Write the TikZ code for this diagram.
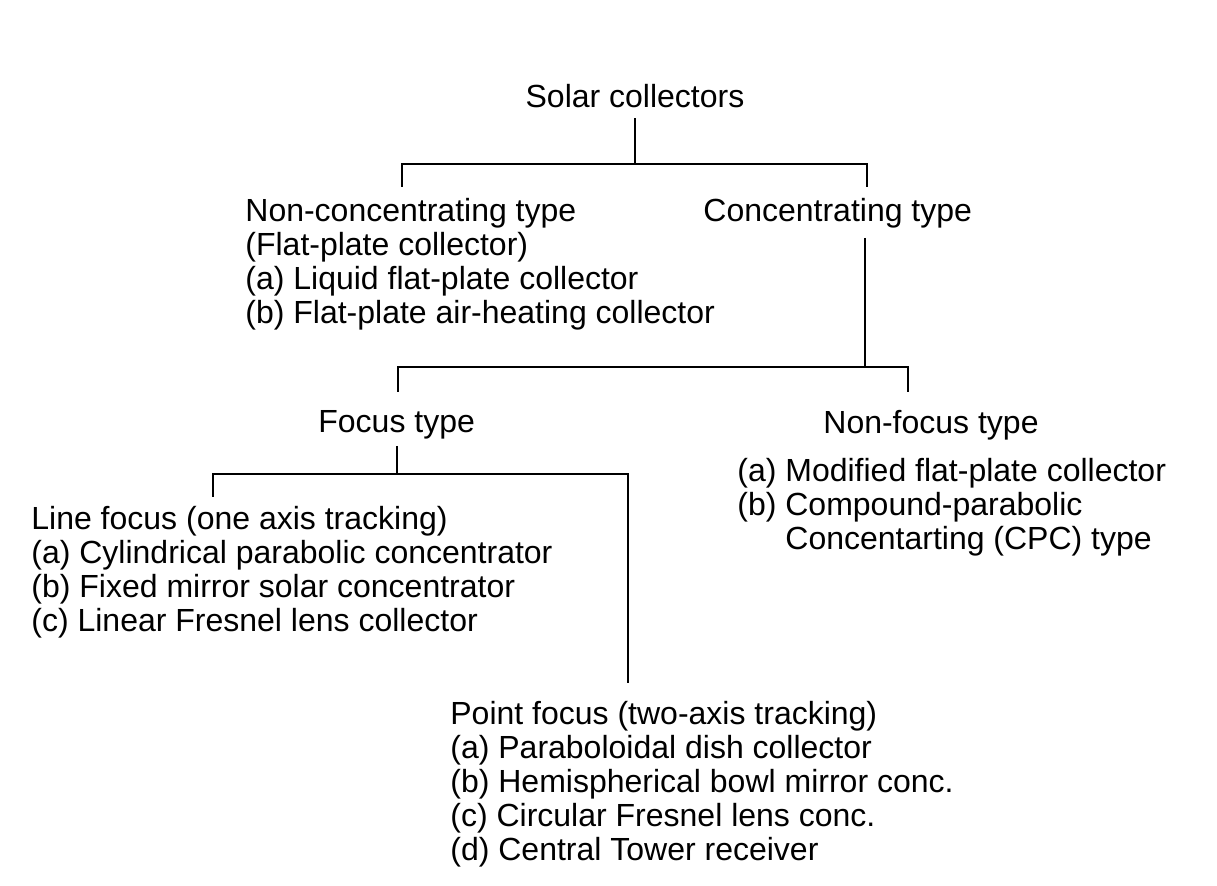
\documentclass[tikz,border=0pt]{standalone}
\usepackage{fontspec}
\setmainfont{Liberation Sans}
\usetikzlibrary{positioning, calc}

\begin{document}
\begin{tikzpicture}[x=0.5pt, y=-0.5pt,
	every node/.style={font=\fontsize{16}{17}\selectfont, inner sep=0pt},
	txt/.style={anchor=north west, align=left},
	branch/.style={line width=1.4pt}]
	\useasboundingbox (0,0) rectangle (1217,886);
	\fill[white] (0,0) rectangle (1217,886);

	% top level
	\node[inner sep=5pt] (solar) at (635,96) {Solar collectors};
	\node[txt] (nonconc) at (245,198) {Non-concentrating type\\(Flat-plate collector)\\(a) Liquid flat-plate collector\\(b) Flat-plate air-heating collector};
	\node[txt] (conc) at (703,198) {Concentrating type};

	\coordinate (j1) at (635,164);
	\coordinate (t1l) at (402,187);
	\coordinate (t1r) at (867,187);
	\draw[branch] (solar.south) -- (j1);
	\draw[branch] (t1l) |- (j1) -| (t1r);

	% concentrating type
	\coordinate (c2) at (865,238);
	\coordinate (j2) at (865,367);
	\coordinate (t2l) at (398,392);
	\coordinate (t2r) at (908,392);
	\draw[branch] (c2) -- (j2);
	\draw[branch] (t2l) |- (j2) -| (t2r);

	\node[txt] (focus) at (318,410) {Focus type};
	\node[txt] (nonfocus) at (823,410) {Non-focus type};
	\node[txt] (nonfocuslist) at (737,458) {(a) Modified flat-plate collector\\(b) Compound-parabolic\\\phantom{(b)~}Concentarting (CPC) type};

	% focus type
	\coordinate (f3) at (397,446);
	\coordinate (j3) at (397,474);
	\coordinate (t3l) at (213,497);
	\coordinate (t3r) at (628,683);
	\draw[branch] (f3) -- (j3);
	\draw[branch] (t3l) |- (j3) -| (t3r);

	\node[txt] (linefocus) at (31,506) {Line focus (one axis tracking)\\(a) Cylindrical parabolic concentrator\\(b) Fixed mirror solar concentrator\\(c) Linear Fresnel lens collector};
	\node[txt] (pointfocus) at (450,701) {Point focus (two-axis tracking)\\(a) Paraboloidal dish collector\\(b) Hemispherical bowl mirror conc.\\(c) Circular Fresnel lens conc.\\(d) Central Tower receiver};
\end{tikzpicture}
\end{document}
